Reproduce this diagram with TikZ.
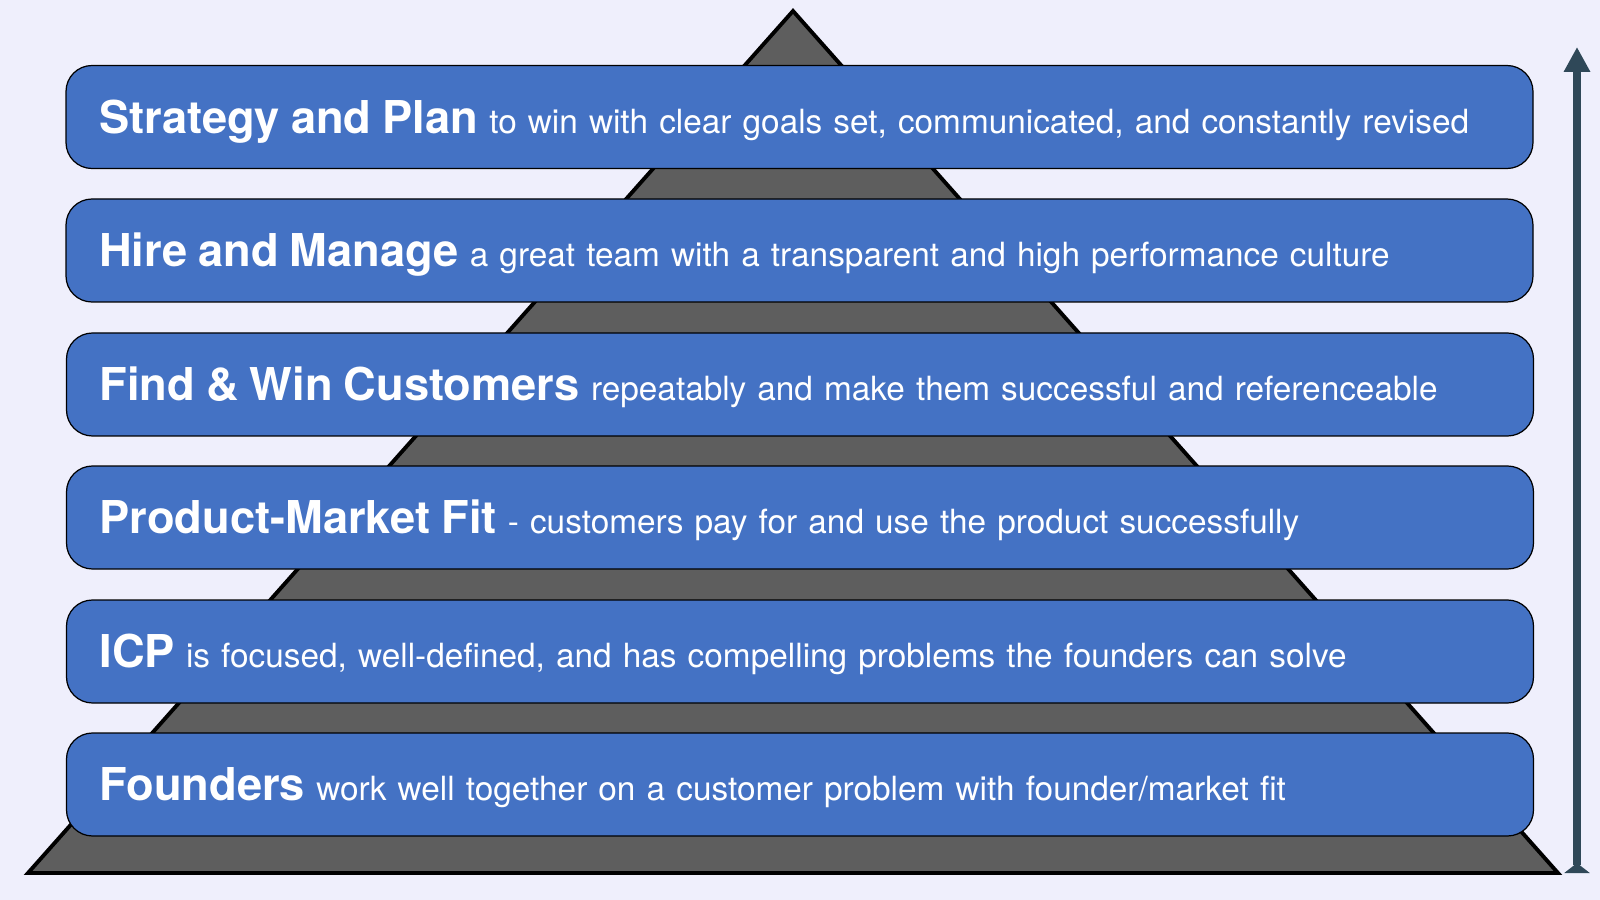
\documentclass[tikz,border=0pt]{standalone}
\usepackage{fontspec}
\setmainfont{TeX Gyre Heros}
\usepackage{tikz}
\usetikzlibrary{arrows.meta}
\definecolor{pagebg}{HTML}{EFEFFC}
\definecolor{layerblue}{HTML}{4472C4}
\definecolor{pyramidgray}{HTML}{5E5E5E}
\definecolor{risecol}{HTML}{2F4858}
\newcommand{\layerhead}[1]{{\fontsize{12.87}{15}\selectfont\bfseries #1}}
\tikzset{
  layer/.style={draw=black,line width=0.35pt,rounded corners=2.6mm,fill=layerblue,
    text=white,minimum height=10.3mm,text width=140.1mm,inner xsep=3.3mm,inner ysep=0pt,
    align=left,text height=9.2pt,text depth=0pt,font=\fontsize{9.49}{12}\selectfont},
  pyramid/.style={draw=black,line width=1.1pt,fill=pyramidgray,line join=miter},
  rise/.style={draw=risecol,line width=0.8mm,
    {Triangle[reversed,length=1mm,width=2.5mm]}-{Triangle[length=2.5mm,width=2.5mm]}}
}

\begin{document}
\begin{tikzpicture}[x=0.1mm,y=-0.1mm]
  \fill[pagebg] (0,0) rectangle (1600,900);
  \useasboundingbox (0,0) rectangle (1600,900);
  \draw[pyramid] (28,873) -- (793,11) -- (1558,873) -- cycle;
  \node[layer] (strategy) at (799.5,117) {\layerhead{Strategy and Plan} to win with clear goals set, communicated, and constantly revised};
  \node[layer] (hire) at (799.5,250.5) {\layerhead{Hire and Manage} a great team with a transparent and high performance culture};
  \node[layer] (customers) at (800,384.5) {\layerhead{Find \& Win Customers} repeatably and make them successful and referenceable};
  \node[layer] (pmf) at (800,517.5) {\layerhead{Product-Market Fit} - customers pay for and use the product successfully};
  \node[layer] (icp) at (800,651.5) {\layerhead{ICP} is focused, well-defined, and has compelling problems the founders can solve};
  \node[layer] (founders) at (800,784.5) {\layerhead{Founders} work well together on a customer problem with founder/market fit};
  \coordinate (risebottom) at (1577,873);
  \coordinate (risetop) at (1577,47);
  \draw[rise] (risebottom) -- (risetop);
\end{tikzpicture}
\end{document}
